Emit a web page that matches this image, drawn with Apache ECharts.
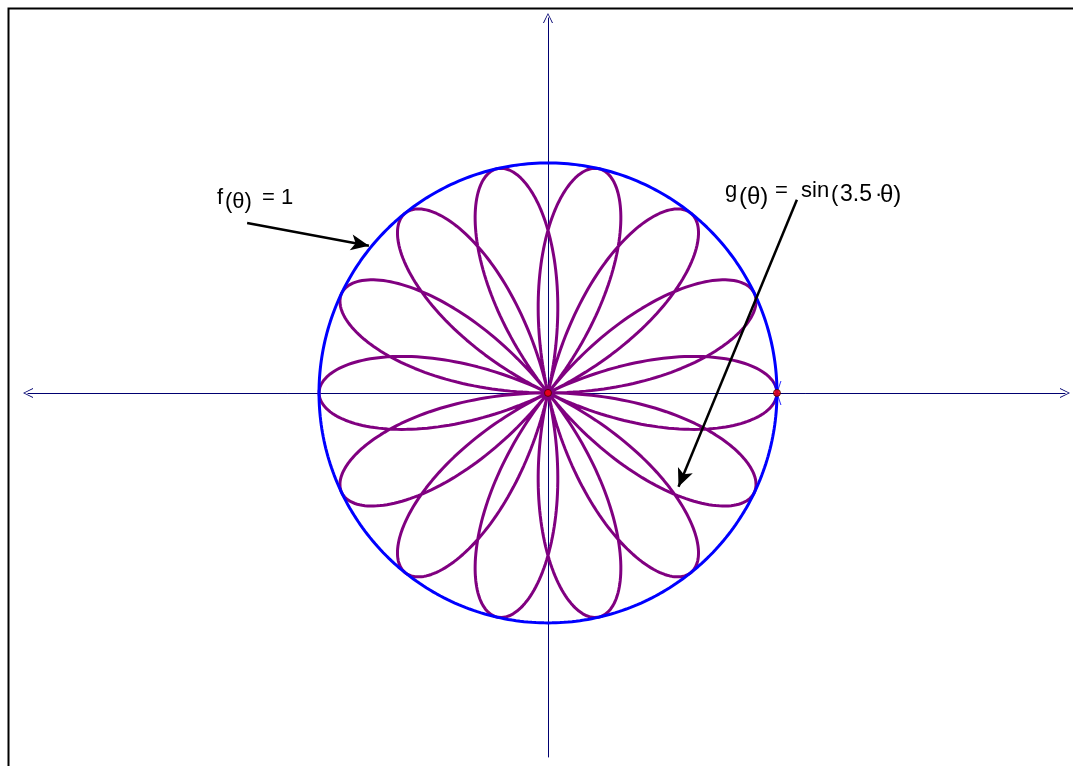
<!DOCTYPE html>
<html>
<head>
<meta charset="utf-8">
<script src="https://cdn.jsdelivr.net/npm/echarts@6/dist/echarts.min.js"></script>
<style>
	html, body { margin: 0; padding: 0; background: #fff; }
	#chart { width: 1073px; height: 766px; }
</style>
</head>
<body>
<div id="chart"></div>
<script type="text/javascript">
	// g(θ) = sin(3.5·θ) and f(θ) = 1, as written on the chart
	var roseFactor = [3.5];
	var circleRadius = [1];
	var thetaEnd = [4 * Math.PI];      // the rose closes after 4π
	var sampleCount = [1600];
	// points marked with red dots
	var markerPoints = [[0, 0], [1, 0]];
	// axis ranges (same scale on both axes)
	var xRange = [-2.271, 2.258];
	var yRange = [-1.583, 1.630];
	// annotation arrows, data coordinates: [from, to]
	var arrowF = [[-1.314, 0.739], [-0.782, 0.640]];
	var arrowG = [[1.087, 0.840], [0.570, -0.408]];

	var rose = [], circle = [];
	for (var i = 0; i <= sampleCount[0]; i++) {
		var t = thetaEnd[0] * i / sampleCount[0];
		var r = Math.sin(roseFactor[0] * t);
		rose.push([r * Math.cos(t), r * Math.sin(t)]);
	}
	for (var j = 0; j <= 720; j++) {
		var a = 2 * Math.PI * j / 720;
		circle.push([circleRadius[0] * Math.cos(a), circleRadius[0] * Math.sin(a)]);
	}

	var chevron = 'path://M0,10 L5,0 L10,10 L9,10 L5,1.6 L1,10 Z';
	var cross = 'path://M0,0 L1.2,0 L10,12 L8.8,12 Z M8.8,0 L10,0 L1.2,12 L0,12 Z';
	var axisColor = '#000070';

	function txt(s, x, y, size) {
		return {
			type: 'text', left: x, top: y, z: 100,
			style: { text: s, fill: '#000', fontSize: size || 22, fontFamily: 'Liberation Sans' }
		};
	}

	var myChart = echarts.init(document.getElementById('chart'));
	var option = {
		animation: false,
		backgroundColor: '#fff',
		grid: { left: 28, right: 8, top: 18, bottom: 9 },
		xAxis: {
			type: 'value', min: xRange[0], max: xRange[1],
			axisLine: { show: true, onZero: true, symbol: [chevron, chevron], symbolSize: [11, 10],
				lineStyle: { color: axisColor, width: 1 } },
			axisTick: { show: false }, axisLabel: { show: false }, splitLine: { show: false }
		},
		yAxis: {
			type: 'value', min: yRange[0], max: yRange[1],
			axisLine: { show: true, onZero: true, symbol: ['none', chevron], symbolSize: [11, 10],
				lineStyle: { color: axisColor, width: 1 } },
			axisTick: { show: false }, axisLabel: { show: false }, splitLine: { show: false }
		},
		series: [
			{
				name: 'g', type: 'line', data: rose, showSymbol: false, smooth: false,
				lineStyle: { color: '#800080', width: 3 }, z: 2,
				markLine: {
					silent: true, symbol: ['none', 'arrow'], symbolSize: [12, 18],
					lineStyle: { color: '#000', width: 2.5, type: 'solid' },
					label: { show: false },
					data: [
						[{ coord: arrowF[0] }, { coord: arrowF[1] }],
						[{ coord: arrowG[0] }, { coord: arrowG[1] }]
					]
				}
			},
			{
				name: 'f', type: 'line', data: circle, showSymbol: false,
				lineStyle: { color: '#0000ff', width: 3 }, z: 3
			},
			{
				type: 'scatter', data: [markerPoints[1]], symbol: cross, symbolSize: [9, 24],
				itemStyle: { color: '#0000ff' }, z: 4
			},
			{
				type: 'scatter', data: markerPoints, symbolSize: 7,
				itemStyle: { color: '#ff0000', borderColor: '#400000', borderWidth: 1 }, z: 5
			}
		],
		graphic: [
			{ type: 'rect', left: 6, top: 6, z: 100,
				shape: { width: 1100, height: 800 },
				style: { fill: 'none', stroke: '#000', lineWidth: 2 } },
			txt('f', 217, 187),
			txt('(\u03b8)', 225, 191),
			txt('= 1', 262, 187),
			txt('g', 725, 180),
			txt('(\u03b8)', 739, 185, 24),
			txt('=', 775, 180),
			txt('sin', 801, 180),
			txt('(', 831, 184),
			txt('3.5', 840, 183, 23),
			txt('\u00b7', 875, 184),
			txt('\u03b8)', 880, 183, 24)
		]
	};
	myChart.setOption(option);
</script>
</body>
</html>
